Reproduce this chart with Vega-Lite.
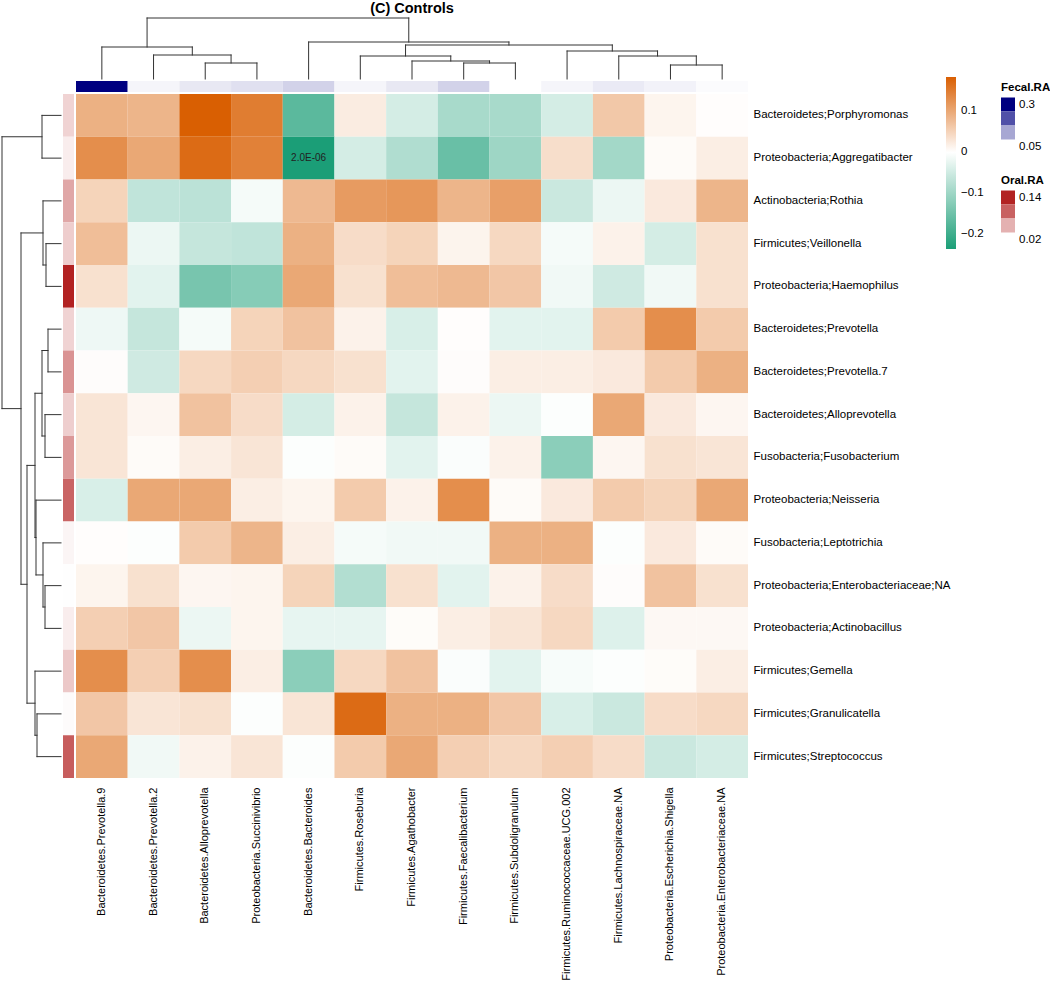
{
"$schema": "https://vega.github.io/schema/vega-lite/v6.json",
"padding": {"left": 1, "top": 0, "right": 0, "bottom": 0},
"config": {"view": {"stroke": null}, "font": "Liberation Sans"},
"datasets": {
"topTree": [
{"p1":1.375,"h1":32,"p2":6.4375,"h2":37,"h":61},
{"p1":0.5,"h1":0,"p2":2.25,"h2":24,"h":32},
{"p1":1.5,"h1":0,"p2":3.0,"h2":16,"h":24},
{"p1":2.5,"h1":0,"p2":3.5,"h2":0,"h":16},
{"p1":4.5,"h1":0,"p2":8.375,"h2":34,"h":37},
{"p1":6.375,"h1":23,"p2":10.375,"h2":28,"h":34},
{"p1":5.5,"h1":0,"p2":7.25,"h2":18,"h":23},
{"p1":6.5,"h1":0,"p2":8.0,"h2":16,"h":18},
{"p1":7.5,"h1":0,"p2":8.5,"h2":0,"h":16},
{"p1":9.5,"h1":0,"p2":11.25,"h2":23,"h":28},
{"p1":10.5,"h1":0,"p2":12.0,"h2":14,"h":23},
{"p1":11.5,"h1":0,"p2":12.5,"h2":0,"h":14}
],
"leftTree": [
{"p1":0.5,"h1":0,"p2":1.5,"h2":0,"h":19},
{"p1":3.5,"h1":0,"p2":4.5,"h2":0,"h":15},
{"p1":2.5,"h1":0,"p2":4.0,"h2":15,"h":18},
{"p1":5.5,"h1":0,"p2":6.5,"h2":0,"h":13},
{"p1":7.5,"h1":0,"p2":8.5,"h2":0,"h":16},
{"p1":6.0,"h1":13,"p2":8.0,"h2":16,"h":19},
{"p1":11.5,"h1":0,"p2":12.5,"h2":0,"h":16},
{"p1":10.5,"h1":0,"p2":12.0,"h2":16,"h":18},
{"p1":9.5,"h1":0,"p2":11.25,"h2":18,"h":25},
{"p1":7.0,"h1":19,"p2":10.375,"h2":25,"h":26},
{"p1":14.5,"h1":0,"p2":15.5,"h2":0,"h":24},
{"p1":13.5,"h1":0,"p2":15.0,"h2":24,"h":26},
{"p1":8.6875,"h1":26,"p2":14.25,"h2":26,"h":34},
{"p1":3.25,"h1":18,"p2":11.46875,"h2":34,"h":40},
{"p1":1.0,"h1":19,"p2":7.359375,"h2":40,"h":59}
],
"fecal": [
{"genus":"Bacteroidetes.Prevotella.9","fecal":0.32},
{"genus":"Bacteroidetes.Prevotella.2","fecal":0.013},
{"genus":"Bacteroidetes.Alloprevotella","fecal":0.029},
{"genus":"Proteobacteria.Succinivibrio","fecal":0.039},
{"genus":"Bacteroidetes.Bacteroides","fecal":0.056},
{"genus":"Firmicutes.Roseburia","fecal":0.012},
{"genus":"Firmicutes.Agathobacter","fecal":0.029},
{"genus":"Firmicutes.Faecalibacterium","fecal":0.056},
{"genus":"Firmicutes.Subdoligranulum","fecal":0.0},
{"genus":"Firmicutes.Ruminococcaceae.UCG.002","fecal":0.012},
{"genus":"Firmicutes.Lachnospiraceae.NA","fecal":0.026},
{"genus":"Proteobacteria.Escherichia.Shigella","fecal":0.016},
{"genus":"Proteobacteria.Enterobacteriaceae.NA","fecal":0.005}
],
"oral": [
{"taxon":"Bacteroidetes;Porphyromonas","oral":0.03},
{"taxon":"Proteobacteria;Aggregatibacter","oral":0.012},
{"taxon":"Actinobacteria;Rothia","oral":0.06},
{"taxon":"Firmicutes;Veillonella","oral":0.034},
{"taxon":"Proteobacteria;Haemophilus","oral":0.15},
{"taxon":"Bacteroidetes;Prevotella","oral":0.03},
{"taxon":"Bacteroidetes;Prevotella.7","oral":0.073},
{"taxon":"Bacteroidetes;Alloprevotella","oral":0.033},
{"taxon":"Fusobacteria;Fusobacterium","oral":0.069},
{"taxon":"Proteobacteria;Neisseria","oral":0.105},
{"taxon":"Fusobacteria;Leptotrichia","oral":0.007},
{"taxon":"Proteobacteria;Enterobacteriaceae;NA","oral":0.001},
{"taxon":"Proteobacteria;Actinobacillus","oral":0.012},
{"taxon":"Firmicutes;Gemella","oral":0.037},
{"taxon":"Firmicutes;Granulicatella","oral":0.003},
{"taxon":"Firmicutes;Streptococcus","oral":0.11}
],
"cells": [
{"taxon":"Bacteroidetes;Porphyromonas","genus":"Bacteroidetes.Prevotella.9","r":0.09},
{"taxon":"Bacteroidetes;Porphyromonas","genus":"Bacteroidetes.Prevotella.2","r":0.085},
{"taxon":"Bacteroidetes;Porphyromonas","genus":"Bacteroidetes.Alloprevotella","r":0.184},
{"taxon":"Bacteroidetes;Porphyromonas","genus":"Proteobacteria.Succinivibrio","r":0.15},
{"taxon":"Bacteroidetes;Porphyromonas","genus":"Bacteroidetes.Bacteroides","r":-0.17},
{"taxon":"Bacteroidetes;Porphyromonas","genus":"Firmicutes.Roseburia","r":0.022},
{"taxon":"Bacteroidetes;Porphyromonas","genus":"Firmicutes.Agathobacter","r":-0.045},
{"taxon":"Bacteroidetes;Porphyromonas","genus":"Firmicutes.Faecalibacterium","r":-0.09},
{"taxon":"Bacteroidetes;Porphyromonas","genus":"Firmicutes.Subdoligranulum","r":-0.09},
{"taxon":"Bacteroidetes;Porphyromonas","genus":"Firmicutes.Ruminococcaceae.UCG.002","r":-0.045},
{"taxon":"Bacteroidetes;Porphyromonas","genus":"Firmicutes.Lachnospiraceae.NA","r":0.063},
{"taxon":"Bacteroidetes;Porphyromonas","genus":"Proteobacteria.Escherichia.Shigella","r":0.012},
{"taxon":"Bacteroidetes;Porphyromonas","genus":"Proteobacteria.Enterobacteriaceae.NA","r":0.002},
{"taxon":"Proteobacteria;Aggregatibacter","genus":"Bacteroidetes.Prevotella.9","r":0.13},
{"taxon":"Proteobacteria;Aggregatibacter","genus":"Bacteroidetes.Prevotella.2","r":0.1},
{"taxon":"Proteobacteria;Aggregatibacter","genus":"Bacteroidetes.Alloprevotella","r":0.17},
{"taxon":"Proteobacteria;Aggregatibacter","genus":"Proteobacteria.Succinivibrio","r":0.145},
{"taxon":"Proteobacteria;Aggregatibacter","genus":"Bacteroidetes.Bacteroides","r":-0.236,"label":"2.0E-06"},
{"taxon":"Proteobacteria;Aggregatibacter","genus":"Firmicutes.Roseburia","r":-0.045},
{"taxon":"Proteobacteria;Aggregatibacter","genus":"Firmicutes.Agathobacter","r":-0.082},
{"taxon":"Proteobacteria;Aggregatibacter","genus":"Firmicutes.Faecalibacterium","r":-0.155},
{"taxon":"Proteobacteria;Aggregatibacter","genus":"Firmicutes.Subdoligranulum","r":-0.1},
{"taxon":"Proteobacteria;Aggregatibacter","genus":"Firmicutes.Ruminococcaceae.UCG.002","r":0.038},
{"taxon":"Proteobacteria;Aggregatibacter","genus":"Firmicutes.Lachnospiraceae.NA","r":-0.095},
{"taxon":"Proteobacteria;Aggregatibacter","genus":"Proteobacteria.Escherichia.Shigella","r":0.005},
{"taxon":"Proteobacteria;Aggregatibacter","genus":"Proteobacteria.Enterobacteriaceae.NA","r":0.02},
{"taxon":"Actinobacteria;Rothia","genus":"Bacteroidetes.Prevotella.9","r":0.05},
{"taxon":"Actinobacteria;Rothia","genus":"Bacteroidetes.Prevotella.2","r":-0.065},
{"taxon":"Actinobacteria;Rothia","genus":"Bacteroidetes.Alloprevotella","r":-0.07},
{"taxon":"Actinobacteria;Rothia","genus":"Proteobacteria.Succinivibrio","r":-0.01},
{"taxon":"Actinobacteria;Rothia","genus":"Bacteroidetes.Bacteroides","r":0.08},
{"taxon":"Actinobacteria;Rothia","genus":"Firmicutes.Roseburia","r":0.115},
{"taxon":"Actinobacteria;Rothia","genus":"Firmicutes.Agathobacter","r":0.12},
{"taxon":"Actinobacteria;Rothia","genus":"Firmicutes.Faecalibacterium","r":0.085},
{"taxon":"Actinobacteria;Rothia","genus":"Firmicutes.Subdoligranulum","r":0.11},
{"taxon":"Actinobacteria;Rothia","genus":"Firmicutes.Ruminococcaceae.UCG.002","r":-0.055},
{"taxon":"Actinobacteria;Rothia","genus":"Firmicutes.Lachnospiraceae.NA","r":-0.02},
{"taxon":"Actinobacteria;Rothia","genus":"Proteobacteria.Escherichia.Shigella","r":0.025},
{"taxon":"Actinobacteria;Rothia","genus":"Proteobacteria.Enterobacteriaceae.NA","r":0.085},
{"taxon":"Firmicutes;Veillonella","genus":"Bacteroidetes.Prevotella.9","r":0.075},
{"taxon":"Firmicutes;Veillonella","genus":"Bacteroidetes.Prevotella.2","r":-0.02},
{"taxon":"Firmicutes;Veillonella","genus":"Bacteroidetes.Alloprevotella","r":-0.06},
{"taxon":"Firmicutes;Veillonella","genus":"Proteobacteria.Succinivibrio","r":-0.065},
{"taxon":"Firmicutes;Veillonella","genus":"Bacteroidetes.Bacteroides","r":0.09},
{"taxon":"Firmicutes;Veillonella","genus":"Firmicutes.Roseburia","r":0.04},
{"taxon":"Firmicutes;Veillonella","genus":"Firmicutes.Agathobacter","r":0.05},
{"taxon":"Firmicutes;Veillonella","genus":"Firmicutes.Faecalibacterium","r":0.013},
{"taxon":"Firmicutes;Veillonella","genus":"Firmicutes.Subdoligranulum","r":0.045},
{"taxon":"Firmicutes;Veillonella","genus":"Firmicutes.Ruminococcaceae.UCG.002","r":-0.01},
{"taxon":"Firmicutes;Veillonella","genus":"Firmicutes.Lachnospiraceae.NA","r":0.015},
{"taxon":"Firmicutes;Veillonella","genus":"Proteobacteria.Escherichia.Shigella","r":-0.045},
{"taxon":"Firmicutes;Veillonella","genus":"Proteobacteria.Enterobacteriaceae.NA","r":0.035},
{"taxon":"Proteobacteria;Haemophilus","genus":"Bacteroidetes.Prevotella.9","r":0.035},
{"taxon":"Proteobacteria;Haemophilus","genus":"Bacteroidetes.Prevotella.2","r":-0.03},
{"taxon":"Proteobacteria;Haemophilus","genus":"Bacteroidetes.Alloprevotella","r":-0.14},
{"taxon":"Proteobacteria;Haemophilus","genus":"Proteobacteria.Succinivibrio","r":-0.125},
{"taxon":"Proteobacteria;Haemophilus","genus":"Bacteroidetes.Bacteroides","r":0.1},
{"taxon":"Proteobacteria;Haemophilus","genus":"Firmicutes.Roseburia","r":0.035},
{"taxon":"Proteobacteria;Haemophilus","genus":"Firmicutes.Agathobacter","r":0.075},
{"taxon":"Proteobacteria;Haemophilus","genus":"Firmicutes.Faecalibacterium","r":0.08},
{"taxon":"Proteobacteria;Haemophilus","genus":"Firmicutes.Subdoligranulum","r":0.065},
{"taxon":"Proteobacteria;Haemophilus","genus":"Firmicutes.Ruminococcaceae.UCG.002","r":-0.015},
{"taxon":"Proteobacteria;Haemophilus","genus":"Firmicutes.Lachnospiraceae.NA","r":-0.05},
{"taxon":"Proteobacteria;Haemophilus","genus":"Proteobacteria.Escherichia.Shigella","r":-0.015},
{"taxon":"Proteobacteria;Haemophilus","genus":"Proteobacteria.Enterobacteriaceae.NA","r":0.035},
{"taxon":"Bacteroidetes;Prevotella","genus":"Bacteroidetes.Prevotella.9","r":-0.018},
{"taxon":"Bacteroidetes;Prevotella","genus":"Bacteroidetes.Prevotella.2","r":-0.06},
{"taxon":"Bacteroidetes;Prevotella","genus":"Bacteroidetes.Alloprevotella","r":-0.01},
{"taxon":"Bacteroidetes;Prevotella","genus":"Proteobacteria.Succinivibrio","r":0.05},
{"taxon":"Bacteroidetes;Prevotella","genus":"Bacteroidetes.Bacteroides","r":0.07},
{"taxon":"Bacteroidetes;Prevotella","genus":"Firmicutes.Roseburia","r":0.015},
{"taxon":"Bacteroidetes;Prevotella","genus":"Firmicutes.Agathobacter","r":-0.04},
{"taxon":"Bacteroidetes;Prevotella","genus":"Firmicutes.Faecalibacterium","r":0.002},
{"taxon":"Bacteroidetes;Prevotella","genus":"Firmicutes.Subdoligranulum","r":-0.03},
{"taxon":"Bacteroidetes;Prevotella","genus":"Firmicutes.Ruminococcaceae.UCG.002","r":-0.03},
{"taxon":"Bacteroidetes;Prevotella","genus":"Firmicutes.Lachnospiraceae.NA","r":0.06},
{"taxon":"Bacteroidetes;Prevotella","genus":"Proteobacteria.Escherichia.Shigella","r":0.13},
{"taxon":"Bacteroidetes;Prevotella","genus":"Proteobacteria.Enterobacteriaceae.NA","r":0.06},
{"taxon":"Bacteroidetes;Prevotella.7","genus":"Bacteroidetes.Prevotella.9","r":0.003},
{"taxon":"Bacteroidetes;Prevotella.7","genus":"Bacteroidetes.Prevotella.2","r":-0.05},
{"taxon":"Bacteroidetes;Prevotella.7","genus":"Bacteroidetes.Alloprevotella","r":0.045},
{"taxon":"Bacteroidetes;Prevotella.7","genus":"Proteobacteria.Succinivibrio","r":0.055},
{"taxon":"Bacteroidetes;Prevotella.7","genus":"Bacteroidetes.Bacteroides","r":0.045},
{"taxon":"Bacteroidetes;Prevotella.7","genus":"Firmicutes.Roseburia","r":0.035},
{"taxon":"Bacteroidetes;Prevotella.7","genus":"Firmicutes.Agathobacter","r":-0.03},
{"taxon":"Bacteroidetes;Prevotella.7","genus":"Firmicutes.Faecalibacterium","r":0.003},
{"taxon":"Bacteroidetes;Prevotella.7","genus":"Firmicutes.Subdoligranulum","r":0.02},
{"taxon":"Bacteroidetes;Prevotella.7","genus":"Firmicutes.Ruminococcaceae.UCG.002","r":0.02},
{"taxon":"Bacteroidetes;Prevotella.7","genus":"Firmicutes.Lachnospiraceae.NA","r":0.025},
{"taxon":"Bacteroidetes;Prevotella.7","genus":"Proteobacteria.Escherichia.Shigella","r":0.06},
{"taxon":"Bacteroidetes;Prevotella.7","genus":"Proteobacteria.Enterobacteriaceae.NA","r":0.09},
{"taxon":"Bacteroidetes;Alloprevotella","genus":"Bacteroidetes.Prevotella.9","r":0.03},
{"taxon":"Bacteroidetes;Alloprevotella","genus":"Bacteroidetes.Prevotella.2","r":0.01},
{"taxon":"Bacteroidetes;Alloprevotella","genus":"Bacteroidetes.Alloprevotella","r":0.07},
{"taxon":"Bacteroidetes;Alloprevotella","genus":"Proteobacteria.Succinivibrio","r":0.04},
{"taxon":"Bacteroidetes;Alloprevotella","genus":"Bacteroidetes.Bacteroides","r":-0.045},
{"taxon":"Bacteroidetes;Alloprevotella","genus":"Firmicutes.Roseburia","r":0.015},
{"taxon":"Bacteroidetes;Alloprevotella","genus":"Firmicutes.Agathobacter","r":-0.06},
{"taxon":"Bacteroidetes;Alloprevotella","genus":"Firmicutes.Faecalibacterium","r":0.015},
{"taxon":"Bacteroidetes;Alloprevotella","genus":"Firmicutes.Subdoligranulum","r":-0.02},
{"taxon":"Bacteroidetes;Alloprevotella","genus":"Firmicutes.Ruminococcaceae.UCG.002","r":-0.003},
{"taxon":"Bacteroidetes;Alloprevotella","genus":"Firmicutes.Lachnospiraceae.NA","r":0.1},
{"taxon":"Bacteroidetes;Alloprevotella","genus":"Proteobacteria.Escherichia.Shigella","r":0.025},
{"taxon":"Bacteroidetes;Alloprevotella","genus":"Proteobacteria.Enterobacteriaceae.NA","r":0.01},
{"taxon":"Fusobacteria;Fusobacterium","genus":"Bacteroidetes.Prevotella.9","r":0.03},
{"taxon":"Fusobacteria;Fusobacterium","genus":"Bacteroidetes.Prevotella.2","r":0.005},
{"taxon":"Fusobacteria;Fusobacterium","genus":"Bacteroidetes.Alloprevotella","r":0.02},
{"taxon":"Fusobacteria;Fusobacterium","genus":"Proteobacteria.Succinivibrio","r":0.03},
{"taxon":"Fusobacteria;Fusobacterium","genus":"Bacteroidetes.Bacteroides","r":-0.003},
{"taxon":"Fusobacteria;Fusobacterium","genus":"Firmicutes.Roseburia","r":0.005},
{"taxon":"Fusobacteria;Fusobacterium","genus":"Firmicutes.Agathobacter","r":-0.03},
{"taxon":"Fusobacteria;Fusobacterium","genus":"Firmicutes.Faecalibacterium","r":-0.005},
{"taxon":"Fusobacteria;Fusobacterium","genus":"Firmicutes.Subdoligranulum","r":0.015},
{"taxon":"Fusobacteria;Fusobacterium","genus":"Firmicutes.Ruminococcaceae.UCG.002","r":-0.12},
{"taxon":"Fusobacteria;Fusobacterium","genus":"Firmicutes.Lachnospiraceae.NA","r":0.01},
{"taxon":"Fusobacteria;Fusobacterium","genus":"Proteobacteria.Escherichia.Shigella","r":0.035},
{"taxon":"Fusobacteria;Fusobacterium","genus":"Proteobacteria.Enterobacteriaceae.NA","r":0.03},
{"taxon":"Proteobacteria;Neisseria","genus":"Bacteroidetes.Prevotella.9","r":-0.04},
{"taxon":"Proteobacteria;Neisseria","genus":"Bacteroidetes.Prevotella.2","r":0.1},
{"taxon":"Proteobacteria;Neisseria","genus":"Bacteroidetes.Alloprevotella","r":0.1},
{"taxon":"Proteobacteria;Neisseria","genus":"Proteobacteria.Succinivibrio","r":0.02},
{"taxon":"Proteobacteria;Neisseria","genus":"Bacteroidetes.Bacteroides","r":0.012},
{"taxon":"Proteobacteria;Neisseria","genus":"Firmicutes.Roseburia","r":0.06},
{"taxon":"Proteobacteria;Neisseria","genus":"Firmicutes.Agathobacter","r":0.015},
{"taxon":"Proteobacteria;Neisseria","genus":"Firmicutes.Faecalibacterium","r":0.13},
{"taxon":"Proteobacteria;Neisseria","genus":"Firmicutes.Subdoligranulum","r":0.005},
{"taxon":"Proteobacteria;Neisseria","genus":"Firmicutes.Ruminococcaceae.UCG.002","r":0.025},
{"taxon":"Proteobacteria;Neisseria","genus":"Firmicutes.Lachnospiraceae.NA","r":0.06},
{"taxon":"Proteobacteria;Neisseria","genus":"Proteobacteria.Escherichia.Shigella","r":0.05},
{"taxon":"Proteobacteria;Neisseria","genus":"Proteobacteria.Enterobacteriaceae.NA","r":0.1},
{"taxon":"Fusobacteria;Leptotrichia","genus":"Bacteroidetes.Prevotella.9","r":0.002},
{"taxon":"Fusobacteria;Leptotrichia","genus":"Bacteroidetes.Prevotella.2","r":-0.003},
{"taxon":"Fusobacteria;Leptotrichia","genus":"Bacteroidetes.Alloprevotella","r":0.06},
{"taxon":"Fusobacteria;Leptotrichia","genus":"Proteobacteria.Succinivibrio","r":0.085},
{"taxon":"Fusobacteria;Leptotrichia","genus":"Bacteroidetes.Bacteroides","r":0.02},
{"taxon":"Fusobacteria;Leptotrichia","genus":"Firmicutes.Roseburia","r":-0.01},
{"taxon":"Fusobacteria;Leptotrichia","genus":"Firmicutes.Agathobacter","r":-0.015},
{"taxon":"Fusobacteria;Leptotrichia","genus":"Firmicutes.Faecalibacterium","r":-0.015},
{"taxon":"Fusobacteria;Leptotrichia","genus":"Firmicutes.Subdoligranulum","r":0.09},
{"taxon":"Fusobacteria;Leptotrichia","genus":"Firmicutes.Ruminococcaceae.UCG.002","r":0.09},
{"taxon":"Fusobacteria;Leptotrichia","genus":"Firmicutes.Lachnospiraceae.NA","r":-0.003},
{"taxon":"Fusobacteria;Leptotrichia","genus":"Proteobacteria.Escherichia.Shigella","r":0.025},
{"taxon":"Fusobacteria;Leptotrichia","genus":"Proteobacteria.Enterobacteriaceae.NA","r":0.005},
{"taxon":"Proteobacteria;Enterobacteriaceae;NA","genus":"Bacteroidetes.Prevotella.9","r":0.012},
{"taxon":"Proteobacteria;Enterobacteriaceae;NA","genus":"Bacteroidetes.Prevotella.2","r":0.035},
{"taxon":"Proteobacteria;Enterobacteriaceae;NA","genus":"Bacteroidetes.Alloprevotella","r":0.01},
{"taxon":"Proteobacteria;Enterobacteriaceae;NA","genus":"Proteobacteria.Succinivibrio","r":0.012},
{"taxon":"Proteobacteria;Enterobacteriaceae;NA","genus":"Bacteroidetes.Bacteroides","r":0.05},
{"taxon":"Proteobacteria;Enterobacteriaceae;NA","genus":"Firmicutes.Roseburia","r":-0.08},
{"taxon":"Proteobacteria;Enterobacteriaceae;NA","genus":"Firmicutes.Agathobacter","r":0.035},
{"taxon":"Proteobacteria;Enterobacteriaceae;NA","genus":"Firmicutes.Faecalibacterium","r":-0.03},
{"taxon":"Proteobacteria;Enterobacteriaceae;NA","genus":"Firmicutes.Subdoligranulum","r":0.015},
{"taxon":"Proteobacteria;Enterobacteriaceae;NA","genus":"Firmicutes.Ruminococcaceae.UCG.002","r":0.04},
{"taxon":"Proteobacteria;Enterobacteriaceae;NA","genus":"Firmicutes.Lachnospiraceae.NA","r":0.003},
{"taxon":"Proteobacteria;Enterobacteriaceae;NA","genus":"Proteobacteria.Escherichia.Shigella","r":0.07},
{"taxon":"Proteobacteria;Enterobacteriaceae;NA","genus":"Proteobacteria.Enterobacteriaceae.NA","r":0.035},
{"taxon":"Proteobacteria;Actinobacillus","genus":"Bacteroidetes.Prevotella.9","r":0.055},
{"taxon":"Proteobacteria;Actinobacillus","genus":"Bacteroidetes.Prevotella.2","r":0.065},
{"taxon":"Proteobacteria;Actinobacillus","genus":"Bacteroidetes.Alloprevotella","r":-0.02},
{"taxon":"Proteobacteria;Actinobacillus","genus":"Proteobacteria.Succinivibrio","r":0.012},
{"taxon":"Proteobacteria;Actinobacillus","genus":"Bacteroidetes.Bacteroides","r":-0.025},
{"taxon":"Proteobacteria;Actinobacillus","genus":"Firmicutes.Roseburia","r":-0.025},
{"taxon":"Proteobacteria;Actinobacillus","genus":"Firmicutes.Agathobacter","r":0.004},
{"taxon":"Proteobacteria;Actinobacillus","genus":"Firmicutes.Faecalibacterium","r":0.02},
{"taxon":"Proteobacteria;Actinobacillus","genus":"Firmicutes.Subdoligranulum","r":0.03},
{"taxon":"Proteobacteria;Actinobacillus","genus":"Firmicutes.Ruminococcaceae.UCG.002","r":0.045},
{"taxon":"Proteobacteria;Actinobacillus","genus":"Firmicutes.Lachnospiraceae.NA","r":-0.035},
{"taxon":"Proteobacteria;Actinobacillus","genus":"Proteobacteria.Escherichia.Shigella","r":0.008},
{"taxon":"Proteobacteria;Actinobacillus","genus":"Proteobacteria.Enterobacteriaceae.NA","r":0.008},
{"taxon":"Firmicutes;Gemella","genus":"Bacteroidetes.Prevotella.9","r":0.13},
{"taxon":"Firmicutes;Gemella","genus":"Bacteroidetes.Prevotella.2","r":0.055},
{"taxon":"Firmicutes;Gemella","genus":"Bacteroidetes.Alloprevotella","r":0.13},
{"taxon":"Firmicutes;Gemella","genus":"Proteobacteria.Succinivibrio","r":0.02},
{"taxon":"Firmicutes;Gemella","genus":"Bacteroidetes.Bacteroides","r":-0.12},
{"taxon":"Firmicutes;Gemella","genus":"Firmicutes.Roseburia","r":0.045},
{"taxon":"Firmicutes;Gemella","genus":"Firmicutes.Agathobacter","r":0.07},
{"taxon":"Firmicutes;Gemella","genus":"Firmicutes.Faecalibacterium","r":-0.005},
{"taxon":"Firmicutes;Gemella","genus":"Firmicutes.Subdoligranulum","r":-0.03},
{"taxon":"Firmicutes;Gemella","genus":"Firmicutes.Ruminococcaceae.UCG.002","r":-0.008},
{"taxon":"Firmicutes;Gemella","genus":"Firmicutes.Lachnospiraceae.NA","r":-0.003},
{"taxon":"Firmicutes;Gemella","genus":"Proteobacteria.Escherichia.Shigella","r":0.004},
{"taxon":"Firmicutes;Gemella","genus":"Proteobacteria.Enterobacteriaceae.NA","r":0.02},
{"taxon":"Firmicutes;Granulicatella","genus":"Bacteroidetes.Prevotella.9","r":0.065},
{"taxon":"Firmicutes;Granulicatella","genus":"Bacteroidetes.Prevotella.2","r":0.03},
{"taxon":"Firmicutes;Granulicatella","genus":"Bacteroidetes.Alloprevotella","r":0.035},
{"taxon":"Firmicutes;Granulicatella","genus":"Proteobacteria.Succinivibrio","r":-0.003},
{"taxon":"Firmicutes;Granulicatella","genus":"Bacteroidetes.Bacteroides","r":0.03},
{"taxon":"Firmicutes;Granulicatella","genus":"Firmicutes.Roseburia","r":0.17},
{"taxon":"Firmicutes;Granulicatella","genus":"Firmicutes.Agathobacter","r":0.09},
{"taxon":"Firmicutes;Granulicatella","genus":"Firmicutes.Faecalibacterium","r":0.09},
{"taxon":"Firmicutes;Granulicatella","genus":"Firmicutes.Subdoligranulum","r":0.065},
{"taxon":"Firmicutes;Granulicatella","genus":"Firmicutes.Ruminococcaceae.UCG.002","r":-0.04},
{"taxon":"Firmicutes;Granulicatella","genus":"Firmicutes.Lachnospiraceae.NA","r":-0.055},
{"taxon":"Firmicutes;Granulicatella","genus":"Proteobacteria.Escherichia.Shigella","r":0.04},
{"taxon":"Firmicutes;Granulicatella","genus":"Proteobacteria.Enterobacteriaceae.NA","r":0.045},
{"taxon":"Firmicutes;Streptococcus","genus":"Bacteroidetes.Prevotella.9","r":0.1},
{"taxon":"Firmicutes;Streptococcus","genus":"Bacteroidetes.Prevotella.2","r":-0.015},
{"taxon":"Firmicutes;Streptococcus","genus":"Bacteroidetes.Alloprevotella","r":0.015},
{"taxon":"Firmicutes;Streptococcus","genus":"Proteobacteria.Succinivibrio","r":0.03},
{"taxon":"Firmicutes;Streptococcus","genus":"Bacteroidetes.Bacteroides","r":-0.003},
{"taxon":"Firmicutes;Streptococcus","genus":"Firmicutes.Roseburia","r":0.06},
{"taxon":"Firmicutes;Streptococcus","genus":"Firmicutes.Agathobacter","r":0.1},
{"taxon":"Firmicutes;Streptococcus","genus":"Firmicutes.Faecalibacterium","r":0.055},
{"taxon":"Firmicutes;Streptococcus","genus":"Firmicutes.Subdoligranulum","r":0.045},
{"taxon":"Firmicutes;Streptococcus","genus":"Firmicutes.Ruminococcaceae.UCG.002","r":0.055},
{"taxon":"Firmicutes;Streptococcus","genus":"Firmicutes.Lachnospiraceae.NA","r":0.04},
{"taxon":"Firmicutes;Streptococcus","genus":"Proteobacteria.Escherichia.Shigella","r":-0.055},
{"taxon":"Firmicutes;Streptococcus","genus":"Proteobacteria.Enterobacteriaceae.NA","r":-0.045}
]
},
"bounds": "flush",
"spacing": 2,
"columns": 3,
"resolve": {"scale": {"color": "independent"}},
"concat": [
  {"width": 59, "height": 61, "data": {"values": [{}]}, "mark": {"type": "text"}, "encoding": {"text": {"value": ""}}},
  {"width": 11, "height": 61, "data": {"values": [{}]}, "mark": {"type": "text"}, "encoding": {"text": {"value": ""}}},
  {"width": 672, "height": 61,
   "title": {"text": "(C) Controls", "fontSize": 14.5, "fontWeight": "bold", "anchor": "middle", "offset": 1, "font": "Liberation Sans", "color": "#000000"},
   "data": {"name": "topTree"},
   "layer": [
     {"mark": {"type": "rule", "stroke": "#333333", "strokeWidth": 1, "strokeCap": "square"},
      "encoding": {"x": {"field": "p1", "type": "quantitative", "scale": {"domain": [0, 13], "nice": false, "zero": false}, "axis": null},
                   "x2": {"field": "p2"},
                   "y": {"field": "h", "type": "quantitative", "scale": {"domain": [0, 61], "nice": false, "zero": false}, "axis": null}}},
     {"mark": {"type": "rule", "stroke": "#333333", "strokeWidth": 1, "strokeCap": "square"},
      "encoding": {"x": {"field": "p1", "type": "quantitative"}, "y": {"field": "h", "type": "quantitative"}, "y2": {"field": "h1"}}},
     {"mark": {"type": "rule", "stroke": "#333333", "strokeWidth": 1, "strokeCap": "square"},
      "encoding": {"x": {"field": "p2", "type": "quantitative"}, "y": {"field": "h", "type": "quantitative"}, "y2": {"field": "h2"}}}
   ]},
  {"width": 59, "height": 11, "data": {"values": [{}]}, "mark": {"type": "text"}, "encoding": {"text": {"value": ""}}},
  {"width": 11, "height": 11, "data": {"values": [{}]}, "mark": {"type": "text"}, "encoding": {"text": {"value": ""}}},
  {"width": 672, "height": 11,
   "data": {"name": "fecal"},
   "mark": {"type": "rect"},
   "encoding": {
     "x": {"field": "genus", "type": "nominal", "axis": null, "scale": {"paddingInner": 0, "paddingOuter": 0},
           "sort": ["Bacteroidetes.Prevotella.9","Bacteroidetes.Prevotella.2","Bacteroidetes.Alloprevotella","Proteobacteria.Succinivibrio","Bacteroidetes.Bacteroides","Firmicutes.Roseburia","Firmicutes.Agathobacter","Firmicutes.Faecalibacterium","Firmicutes.Subdoligranulum","Firmicutes.Ruminococcaceae.UCG.002","Firmicutes.Lachnospiraceae.NA","Proteobacteria.Escherichia.Shigella","Proteobacteria.Enterobacteriaceae.NA"]},
     "color": {"field": "fecal", "type": "quantitative",
               "scale": {"domain": [0, 0.32], "range": ["#FFFFFF", "#000080"], "interpolate": "rgb"},
               "legend": {"type": "symbol", "orient": "none", "legendX": 925, "legendY": 1, "title": "Fecal.RA",
                          "titleFont": "Liberation Sans", "titleFontSize": 11.5, "titleFontWeight": "bold", "titleColor": "#000000", "titlePadding": 4,
                          "values": [0.32, 0.22, 0.11, 0], "symbolType": "square", "symbolSize": 196, "symbolStrokeWidth": 0,
                          "rowPadding": 0, "labelFont": "Liberation Sans", "labelFontSize": 11.5, "labelColor": "#000000", "labelOffset": 4,
                          "labelExpr": "datum.value == 0.32 ? '0.3' : (datum.value == 0 ? '0.05' : '')",
                          "encode": {"symbols": {"update": {"opacity": {"signal": "datum.value == 0 ? 0 : 1"}}}}}}
   }},
  {"width": 59, "height": 684,
   "data": {"name": "leftTree"},
   "layer": [
     {"mark": {"type": "rule", "stroke": "#333333", "strokeWidth": 1, "strokeCap": "square"},
      "encoding": {"x": {"field": "h", "type": "quantitative", "scale": {"domain": [0, 59], "reverse": true, "nice": false, "zero": false}, "axis": null},
                   "y": {"field": "p1", "type": "quantitative", "scale": {"domain": [0, 16], "reverse": true, "nice": false, "zero": false}, "axis": null},
                   "y2": {"field": "p2"}}},
     {"mark": {"type": "rule", "stroke": "#333333", "strokeWidth": 1, "strokeCap": "square"},
      "encoding": {"x": {"field": "h", "type": "quantitative"}, "x2": {"field": "h1"}, "y": {"field": "p1", "type": "quantitative"}}},
     {"mark": {"type": "rule", "stroke": "#333333", "strokeWidth": 1, "strokeCap": "square"},
      "encoding": {"x": {"field": "h", "type": "quantitative"}, "x2": {"field": "h2"}, "y": {"field": "p2", "type": "quantitative"}}}
   ]},
  {"width": 11, "height": 684,
   "data": {"name": "oral"},
   "mark": {"type": "rect"},
   "encoding": {
     "y": {"field": "taxon", "type": "nominal", "axis": null, "scale": {"paddingInner": 0, "paddingOuter": 0},
           "sort": ["Bacteroidetes;Porphyromonas","Proteobacteria;Aggregatibacter","Actinobacteria;Rothia","Firmicutes;Veillonella","Proteobacteria;Haemophilus","Bacteroidetes;Prevotella","Bacteroidetes;Prevotella.7","Bacteroidetes;Alloprevotella","Fusobacteria;Fusobacterium","Proteobacteria;Neisseria","Fusobacteria;Leptotrichia","Proteobacteria;Enterobacteriaceae;NA","Proteobacteria;Actinobacillus","Firmicutes;Gemella","Firmicutes;Granulicatella","Firmicutes;Streptococcus"]},
     "color": {"field": "oral", "type": "quantitative",
               "scale": {"domain": [0, 0.15], "range": ["#FFFFFF", "#B22222"], "interpolate": "rgb"},
               "legend": {"type": "symbol", "orient": "none", "legendX": 938, "legendY": 81, "title": "Oral.RA",
                          "titleFont": "Liberation Sans", "titleFontSize": 11.5, "titleFontWeight": "bold", "titleColor": "#000000", "titlePadding": 4,
                          "values": [0.15, 0.107, 0.053, 0], "symbolType": "square", "symbolSize": 196, "symbolStrokeWidth": 0,
                          "rowPadding": 0, "labelFont": "Liberation Sans", "labelFontSize": 11.5, "labelColor": "#000000", "labelOffset": 4,
                          "labelExpr": "datum.value == 0.15 ? '0.14' : (datum.value == 0 ? '0.02' : '')",
                          "encode": {"symbols": {"update": {"opacity": {"signal": "datum.value == 0 ? 0 : 1"}}}}}}
   }},
  {"width": 672, "height": 684,
   "data": {"name": "cells"},
   "encoding": {
     "x": {"field": "genus", "type": "nominal", "scale": {"paddingInner": 0, "paddingOuter": 0},
           "sort": ["Bacteroidetes.Prevotella.9","Bacteroidetes.Prevotella.2","Bacteroidetes.Alloprevotella","Proteobacteria.Succinivibrio","Bacteroidetes.Bacteroides","Firmicutes.Roseburia","Firmicutes.Agathobacter","Firmicutes.Faecalibacterium","Firmicutes.Subdoligranulum","Firmicutes.Ruminococcaceae.UCG.002","Firmicutes.Lachnospiraceae.NA","Proteobacteria.Escherichia.Shigella","Proteobacteria.Enterobacteriaceae.NA"],
           "axis": {"orient": "bottom", "title": null, "domain": false, "ticks": false, "labelAngle": 270, "labelFont": "Liberation Sans", "labelFontSize": 11, "labelColor": "#000000", "labelPadding": 9, "labelLimit": 400, "labelOverlap": false}},
     "y": {"field": "taxon", "type": "nominal", "scale": {"paddingInner": 0, "paddingOuter": 0},
           "sort": ["Bacteroidetes;Porphyromonas","Proteobacteria;Aggregatibacter","Actinobacteria;Rothia","Firmicutes;Veillonella","Proteobacteria;Haemophilus","Bacteroidetes;Prevotella","Bacteroidetes;Prevotella.7","Bacteroidetes;Alloprevotella","Fusobacteria;Fusobacterium","Proteobacteria;Neisseria","Fusobacteria;Leptotrichia","Proteobacteria;Enterobacteriaceae;NA","Proteobacteria;Actinobacillus","Firmicutes;Gemella","Firmicutes;Granulicatella","Firmicutes;Streptococcus"],
           "axis": {"orient": "right", "title": null, "domain": false, "ticks": false, "labelFont": "Liberation Sans", "labelFontSize": 11.5, "labelColor": "#000000", "labelPadding": 5, "labelLimit": 400, "labelOverlap": false}}
   },
   "layer": [
     {"mark": {"type": "rect"},
      "encoding": {"color": {"field": "r", "type": "quantitative",
        "scale": {"domain": [-0.236, 0, 0.184], "range": ["#1B9E77", "#FFFFFF", "#D95F02"], "interpolate": "rgb"},
        "legend": {"type": "gradient", "orient": "none", "legendX": 870, "legendY": -17, "title": null, "direction": "vertical",
                   "gradientLength": 172, "gradientThickness": 10, "values": [-0.2, -0.1, 0, 0.1],
                   "labelExpr": "datum.value == 0 ? '0' : datum.label",
                   "labelFont": "Liberation Sans", "labelFontSize": 11.5, "labelColor": "#000000", "labelOffset": 5, "gradientStrokeWidth": 0}}}},
     {"transform": [{"filter": "datum.label"}],
      "mark": {"type": "text", "fontSize": 10, "font": "Liberation Sans", "color": "#222222"},
      "encoding": {"text": {"field": "label"}}}
   ]}
]
}
